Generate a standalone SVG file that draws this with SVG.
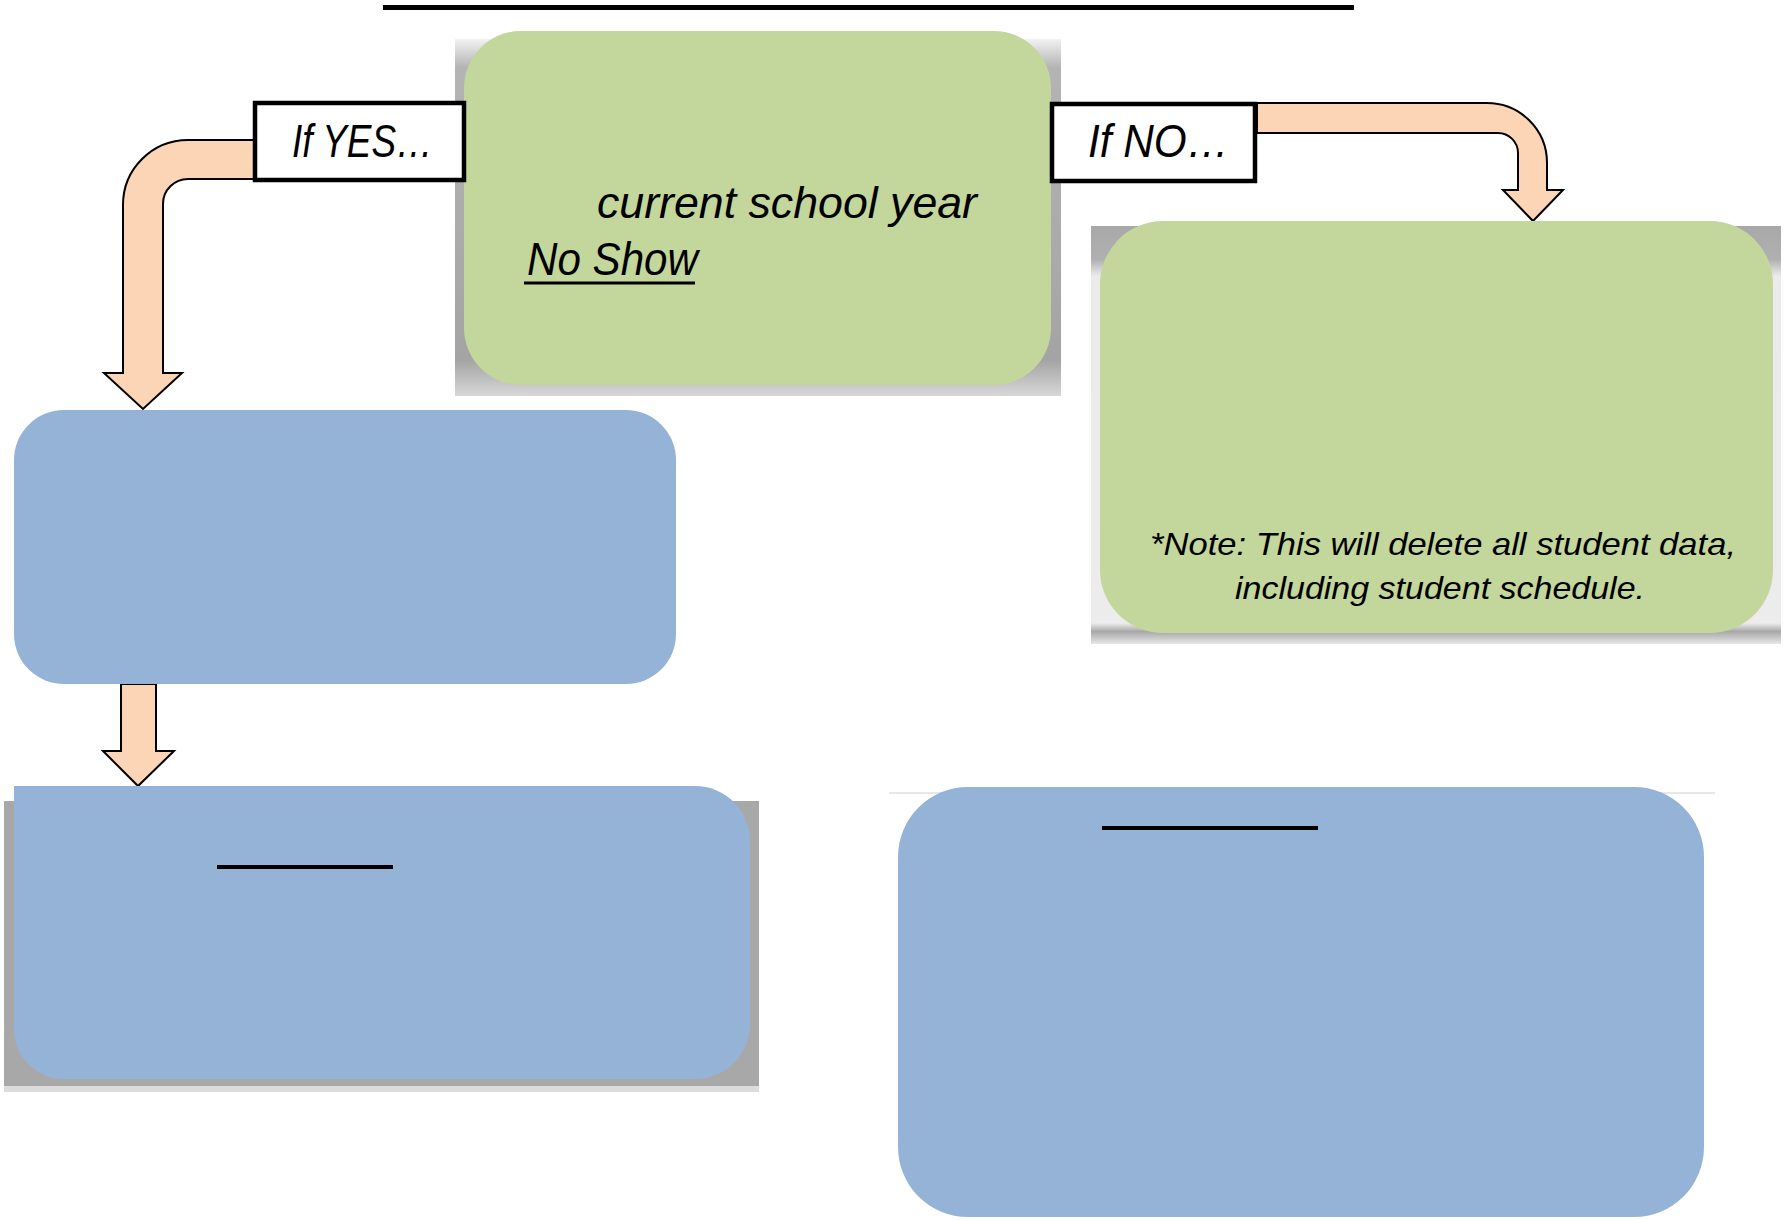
<svg xmlns="http://www.w3.org/2000/svg" width="1787" height="1220" viewBox="0 0 1787 1220">
  <style>
    .green { fill: #c3d69b; }
    .blue { fill: #95b3d7; }
    .label { fill: #ffffff; stroke: #000000; stroke-width: 4.5; }
    .arrow { fill: #fbd5b5; stroke: #000000; stroke-width: 2; stroke-linejoin: miter; }
    .t { font-family: "Liberation Sans", Arial, sans-serif; font-style: italic; fill: #000000; }
    .rule { stroke: #000000; stroke-width: 4; }
  </style>
  <defs>
    <linearGradient id="shadowTop" x1="0" y1="0" x2="0" y2="1">
      <stop offset="0" stop-color="#f2f2f2"/>
      <stop offset="0.08" stop-color="#b4b4b4"/>
      <stop offset="0.9" stop-color="#a4a4a4"/>
      <stop offset="1" stop-color="#d8d8d8"/>
    </linearGradient>
    <linearGradient id="shadowRight" x1="0" y1="0" x2="0" y2="1">
      <stop offset="0" stop-color="#a8a8a8"/>
      <stop offset="0.08" stop-color="#b0b0b0"/>
      <stop offset="0.12" stop-color="#ebebeb"/>
      <stop offset="0.95" stop-color="#ececec"/>
      <stop offset="0.97" stop-color="#a8a8a8"/>
      <stop offset="1" stop-color="#e6e6e6"/>
    </linearGradient>
  </defs>

  <!-- title rule -->
  <line x1="383" y1="7.5" x2="1354" y2="7.5" stroke="#000000" stroke-width="5"/>

  <g id="connectors">
    <!-- If YES arrow -->
    <path class="arrow" d="M254,140 L188,140 A65,65 0 0 0 123,205 L123,373 L104,373 L143,409 L182,373 L163,373 L163,204 A25,25 0 0 1 188,179 L254,179 Z"/>
    <!-- If NO arrow -->
    <path class="arrow" d="M1257,103 L1487,103 A60,60 0 0 1 1547,163 L1547,190 L1563,190 L1533,221 L1503,190 L1518,190 L1518,153 A20,20 0 0 0 1498,133 L1257,133 Z"/>
    <!-- straight arrow between blue boxes -->
    <path class="arrow" d="M121,684 L156,684 L156,751 L174,751 L138,786 L103,751 L121,751 Z"/>
  </g>

  <g id="node-question">
    <rect x="455" y="39" width="606" height="357" fill="url(#shadowTop)"/>
    <rect class="green" x="464" y="31" width="587" height="354" rx="57" ry="57"/>
    <text class="t" x="597" y="218" font-size="44" textLength="380" lengthAdjust="spacingAndGlyphs">current school year</text>
    <text class="t" x="527" y="275" font-size="46" textLength="171" lengthAdjust="spacingAndGlyphs">No Show</text>
    <line x1="524" y1="283" x2="695" y2="283" stroke="#000000" stroke-width="3"/>
  </g>

  <g id="label-yes">
    <rect class="label" x="255" y="103" width="209" height="77"/>
    <text class="t" x="292" y="157" font-size="46" textLength="141" lengthAdjust="spacingAndGlyphs">If YES…</text>
  </g>

  <g id="label-no">
    <rect class="label" x="1052" y="104" width="203" height="77"/>
    <text class="t" x="1088" y="157" font-size="46" textLength="141" lengthAdjust="spacingAndGlyphs">If NO…</text>
  </g>

  <g id="node-no-action">
    <rect x="1091" y="226" width="690" height="418" fill="url(#shadowRight)"/>
    <rect class="green" x="1100" y="221" width="673" height="412" rx="63" ry="63"/>
    <text class="t" x="1150" y="555" font-size="32" textLength="586" lengthAdjust="spacingAndGlyphs">*Note: This will delete all student data,</text>
    <text class="t" x="1235" y="599" font-size="32" textLength="410" lengthAdjust="spacingAndGlyphs">including student schedule.</text>
  </g>

  <g id="node-yes-step1">
    <rect class="blue" x="14" y="410" width="662" height="274" rx="50" ry="50"/>
  </g>

  <g id="node-yes-step2">
    <rect x="4" y="801" width="755" height="291" fill="#a8a8a8"/>
    <rect x="4" y="1086" width="755" height="6" fill="#dcdcdc"/>
    <path class="blue" d="M14,786 L695,786 A55,55 0 0 1 750,841 L750,1024 A55,55 0 0 1 695,1079 L64,1079 A50,50 0 0 1 14,1029 Z"/>
    <line class="rule" x1="217" y1="867" x2="393" y2="867"/>
  </g>

  <g id="node-no-step2">
    <line x1="889" y1="793" x2="1715" y2="793" stroke="#e8e8e8" stroke-width="2"/>
    <rect class="blue" x="898" y="787" width="806" height="430" rx="70" ry="70"/>
    <line class="rule" x1="1102" y1="828" x2="1318" y2="828"/>
  </g>
</svg>
